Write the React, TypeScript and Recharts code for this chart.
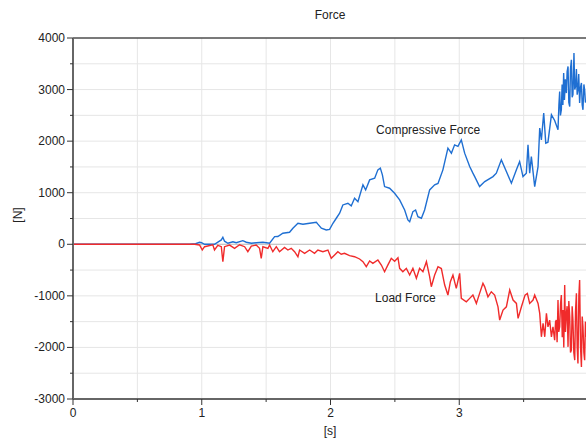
import React from 'react'
import { LineChart, Line, XAxis, YAxis, CartesianGrid, ReferenceLine, ReferenceDot } from 'recharts'

// time [s] and compressive force [N]
const compTime = [
  0, 0.905, 0.952, 0.983, 0.998, 1.022, 1.099, 1.152, 1.164, 1.177, 1.203, 1.242, 1.268, 1.319, 1.346,
  1.385, 1.423, 1.475, 1.527, 1.566, 1.591, 1.63, 1.682, 1.708, 1.747, 1.786, 1.838, 1.89, 1.902, 1.929,
  1.967, 1.993, 2.019, 2.045, 2.071, 2.096, 2.135, 2.161, 2.187, 2.213, 2.252, 2.273, 2.304, 2.343, 2.368,
  2.387, 2.403, 2.42, 2.459, 2.498, 2.537, 2.576, 2.601, 2.615, 2.64, 2.661, 2.679, 2.706, 2.731, 2.77,
  2.809, 2.835, 2.873, 2.912, 2.939, 2.964, 2.99, 3.016, 3.042, 3.081, 3.106, 3.12, 3.158, 3.198, 3.262,
  3.288, 3.327, 3.366, 3.405, 3.444, 3.469, 3.495, 3.521, 3.534, 3.547, 3.56, 3.586, 3.612, 3.625, 3.638,
  3.656, 3.672, 3.689, 3.716, 3.741, 3.767, 3.774, 3.78, 3.786, 3.793, 3.799, 3.805, 3.811, 3.817, 3.824,
  3.832, 3.838, 3.845, 3.851, 3.858, 3.864, 3.871, 3.877, 3.883, 3.891, 3.897, 3.904, 3.91, 3.916, 3.922,
  3.928, 3.935, 3.942, 3.949, 3.955, 3.961, 3.968, 3.974, 3.98, 3.986,
]
const compForce = [
  0, 0, 10, 40, 30, 0, 0, 84, 136, 60, 20, 50, 30, 70, 40,
  20, 30, 40, 20, 148, 150, 214, 233, 311, 408, 388, 408, 427, 390, 311,
  278, 290, 408, 505, 602, 763, 796, 744, 893, 827, 1152, 1054, 1249, 1282, 1443,
  1476, 1346, 1119, 1087, 990, 860, 666, 472, 439, 633, 666, 536, 505, 666, 1054,
  1152, 1180, 1443, 1864, 1767, 1928, 1900, 2025, 1767, 1507, 1379, 1313, 1119, 1216, 1313,
  1379, 1637, 1410, 1185, 1443, 1604, 1313, 1380, 1928, 1379, 1701, 1119, 1507, 2253, 2025,
  2544, 1961, 1980, 2511, 2400, 2220, 2700, 2964, 2500, 2608, 3100, 2700, 3321, 2800, 3200,
  2932, 3350, 3449, 2750, 2672, 3400, 3579, 2850, 2900, 3709, 3000, 3061, 3400, 2900, 2997,
  3300, 2738, 3050, 3127, 2700, 2608, 3100, 2997, 2750, 2800,
]

// time [s] and load force [N]
const loadTime = [
  0, 0.944, 0.983, 1.004, 1.022, 1.086, 1.099, 1.125, 1.152, 1.164, 1.177, 1.216, 1.255, 1.294, 1.333,
  1.358, 1.385, 1.423, 1.449, 1.462, 1.475, 1.514, 1.527, 1.552, 1.579, 1.604, 1.643, 1.669, 1.695, 1.721,
  1.747, 1.76, 1.799, 1.838, 1.876, 1.902, 1.941, 1.98, 2.006, 2.032, 2.057, 2.083, 2.109, 2.148, 2.187,
  2.226, 2.252, 2.278, 2.304, 2.329, 2.368, 2.395, 2.42, 2.446, 2.472, 2.498, 2.524, 2.537, 2.562, 2.589,
  2.615, 2.64, 2.667, 2.692, 2.718, 2.745, 2.77, 2.783, 2.809, 2.835, 2.861, 2.887, 2.912, 2.931, 2.951,
  2.977, 3.003, 3.016, 3.055, 3.081, 3.106, 3.133, 3.158, 3.184, 3.197, 3.223, 3.249, 3.275, 3.301, 3.314,
  3.34, 3.366, 3.392, 3.418, 3.444, 3.457, 3.483, 3.511, 3.529, 3.547, 3.573, 3.586, 3.612, 3.625, 3.638,
  3.651, 3.664, 3.677, 3.689, 3.702, 3.716, 3.728, 3.741, 3.748, 3.754, 3.76, 3.767, 3.773, 3.78, 3.787,
  3.793, 3.8, 3.806, 3.812, 3.819, 3.825, 3.832, 3.838, 3.845, 3.851, 3.858, 3.864, 3.871, 3.877, 3.883,
  3.89, 3.897, 3.903, 3.91, 3.916, 3.922, 3.929, 3.935, 3.942, 3.949, 3.955, 3.961, 3.968, 3.974, 3.98,
  3.986,
]
const loadForce = [
  0, 0, -14, -111, -47, -10, -111, -20, -47, -338, -47, -15, -78, -10, -47,
  -144, -35, -15, -78, -272, -47, -78, -15, -144, -47, -144, -60, -111, -78, -144,
  -241, -111, -175, -111, -175, -111, -144, -111, -272, -208, -144, -194, -175, -221, -241,
  -285, -338, -435, -324, -369, -305, -402, -532, -400, -272, -330, -260, -466, -532, -466,
  -596, -466, -660, -466, -532, -338, -629, -823, -596, -435, -470, -790, -985, -726, -596,
  -855, -563, -1049, -1115, -1049, -985, -1146, -952, -757, -820, -1018, -920, -985, -1212, -1470,
  -1276, -1212, -888, -1082, -1146, -1437, -1212, -985, -952, -1146, -1082, -985, -1146, -1340, -1794,
  -1534, -1794, -1340, -1600, -1470, -1794, -1600, -1858, -1500, -1470, -1900, -1082, -1700, -1600, -1150,
  -985, -1800, -1276, -2000, -790, -1700, -1340, -1200, -1989, -1100, -1400, -2100, -2053, -1200, -1470,
  -2100, -2247, -1300, -952, -2000, -2311, -1000, -693, -2000, -2377, -1400, -1600, -2100, -2247, -1500,
  -1800,
]

const xTicks = [0, 0.5, 1, 1.5, 2, 2.5, 3, 3.5]
const yTicks = [-3000, -2500, -2000, -1500, -1000, -500, 0, 500, 1000, 1500, 2000, 2500, 3000, 3500, 4000]

const compData = compTime.map((t, i) => ({ t, v: compForce[i] }))
const loadData = loadTime.map((t, i) => ({ t, v: loadForce[i] }))

const FONT = '"Liberation Sans", Arial, sans-serif'

function YTick({ x, y, payload }: any) {
  const major = payload.value % 1000 === 0
  return (
    <g>
      <line x1={x - (major ? 6 : 3)} x2={x} y1={y} y2={y} stroke="#333" />
      {major && (
        <text x={x - 8} y={y} dy={4} textAnchor="end" fontSize={12} fill="#222" fontFamily={FONT}>
          {payload.value}
        </text>
      )}
    </g>
  )
}

function XTick({ x, y, payload }: any) {
  const major = Number.isInteger(payload.value)
  return (
    <g>
      <line x1={x} x2={x} y1={y} y2={y + (major ? 6 : 3)} stroke="#333" />
      {major && (
        <text x={x} y={y + 18} textAnchor="middle" fontSize={12} fill="#222" fontFamily={FONT}>
          {payload.value}
        </text>
      )}
    </g>
  )
}

export default function App() {
  return (
    <div
      style={{
        position: 'absolute',
        left: 0,
        top: 0,
        width: 586,
        height: 439,
        overflow: 'hidden',
        background: '#fff',
        fontFamily: FONT,
      }}
    >
      <div style={{ position: 'absolute', left: 0, width: 660, top: 8, textAlign: 'center', fontSize: 12, color: '#222' }}>
        Force
      </div>
      <div
        style={{
          position: 'absolute',
          left: 18,
          top: 215,
          fontSize: 12,
          color: '#222',
          transform: 'translate(-50%, -50%) rotate(-90deg)',
        }}
      >
        [N]
      </div>
      <div style={{ position: 'absolute', left: 0, width: 660, top: 424, textAlign: 'center', fontSize: 12, color: '#222' }}>
        [s]
      </div>
      <LineChart width={600} height={439} margin={{ top: 38, right: 12, left: 0, bottom: 0 }}>
        <CartesianGrid stroke="#e6e6e6" />
        <XAxis
          type="number"
          dataKey="t"
          domain={[0, 4]}
          ticks={xTicks}
          height={40}
          tickSize={0}
          tickMargin={0}
          tick={<XTick />}
          axisLine={{ stroke: '#666', strokeWidth: 2 }}
          allowDataOverflow
        />
        <YAxis
          type="number"
          domain={[-3000, 4000]}
          ticks={yTicks}
          width={73}
          tickSize={0}
          tickMargin={0}
          tick={<YTick />}
          axisLine={{ stroke: '#666', strokeWidth: 2 }}
          allowDataOverflow
        />
        <ReferenceLine y={0} stroke="#bdbdbd" />
        <ReferenceLine y={4000} stroke="#000" />
        <Line
          data={compData}
          dataKey="v"
          type="linear"
          stroke="#1f6fd2"
          strokeWidth={1.4}
          dot={false}
          isAnimationActive={false}
        />
        <Line
          data={loadData}
          dataKey="v"
          type="linear"
          stroke="#f02b2b"
          strokeWidth={1.4}
          dot={false}
          isAnimationActive={false}
        />
        <ReferenceDot
          x={2.758}
          y={2220}
          r={0}
          stroke="none"
          fill="none"
          label={{ value: 'Compressive Force', position: 'center', fontSize: 12, fill: '#222', fontFamily: FONT }}
        />
        <ReferenceDot
          x={2.582}
          y={-1037}
          r={0}
          stroke="none"
          fill="none"
          label={{ value: 'Load Force', position: 'center', fontSize: 12, fill: '#222', fontFamily: FONT }}
        />
      </LineChart>
    </div>
  )
}
